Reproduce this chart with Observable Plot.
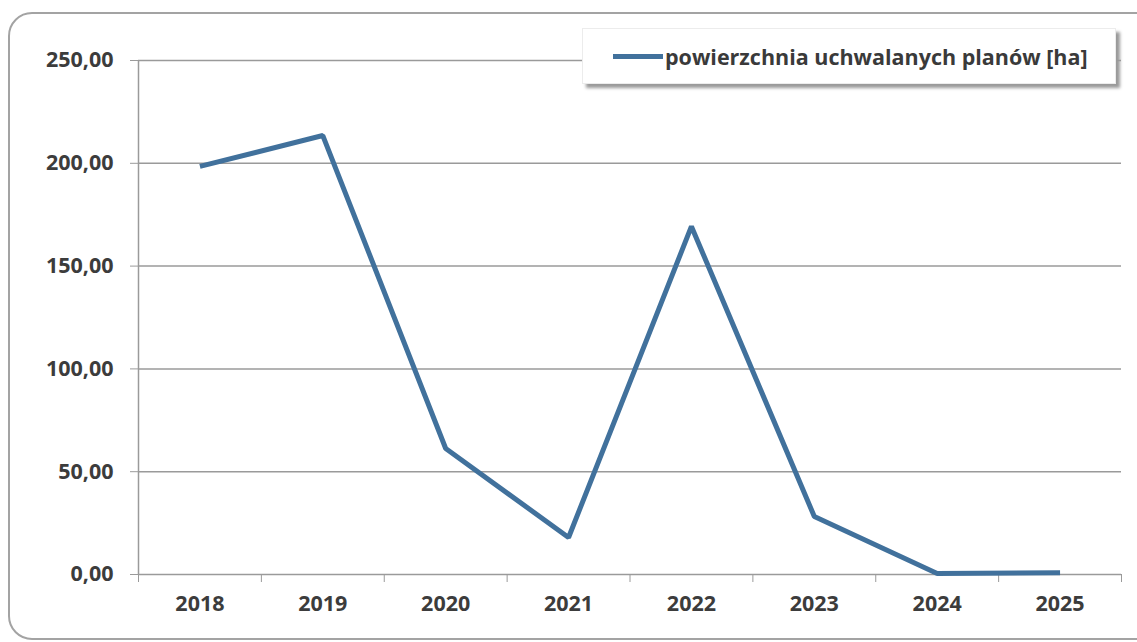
<!DOCTYPE html>
<html>
<head>
<meta charset="utf-8">
<script src="https://cdn.jsdelivr.net/npm/d3@7"></script>
<script src="https://cdn.jsdelivr.net/npm/@observablehq/plot@0.6"></script>
<style>
  html, body { margin: 0; padding: 0; background: #fff; }
  #wrap { position: relative; width: 1137px; height: 642px; overflow: hidden; }
  #frame { position: absolute; left: 8px; top: 12px; width: 1160px; height: 624px;
           border: 2px solid #a3a3a3; border-radius: 24px; }
  #chart { position: absolute; left: 0; top: 0; }
  #legend { position: absolute; left: 582px; top: 28px; width: 532px; height: 54px;
            background: #fff; border: 1px solid #ececec;
            box-shadow: 4px 4px 3px #9a9a9a;
            font-family: "Open Sans", sans-serif; font-weight: 700; font-size: 21.5px; color: #3a3a3a;
            display: flex; align-items: center; }
  #legend .sw { width: 50px; height: 5px; background: #41719c; margin-left: 30px; margin-right: 2px; }
</style>
</head>
<body>
<div id="wrap">
  <div id="frame"></div>
  <div id="chart"></div>
  <div id="legend"><span class="sw"></span><span id="legend-label"></span></div>
</div>
<script>
const years = [2018, 2019, 2020, 2021, 2022, 2023, 2024, 2025];
const values = [198.5, 213.5, 61.3, 18.0, 169.3, 28.2, 0.5, 0.9];
const yTicks = [0, 50, 100, 150, 200, 250];
const seriesName = "powierzchnia uchwalanych planów [ha]";

document.getElementById("legend-label").textContent = seriesName;

const data = years.map((year, i) => ({year, value: values[i]}));
const boundaries = [...years.map(y => y - 0.5), years[years.length - 1] + 0.5];
const fmt = d => d.toFixed(2).replace(".", ",");

const chart = Plot.plot({
  width: 1137,
  height: 642,
  marginLeft: 138,
  marginRight: 16,
  marginTop: 60,
  marginBottom: 68,
  style: { fontFamily: "Open Sans, sans-serif", fontSize: "21.5px", fontWeight: "700", color: "#3c3c3c", background: "transparent" },
  x: { domain: [boundaries[0], boundaries[boundaries.length - 1]] },
  y: { domain: [0, 250] },
  marks: [
    Plot.gridY(yTicks, { stroke: "#9a9a9a", strokeOpacity: 1, strokeWidth: 1.5 }),
    Plot.ruleX([boundaries[0]], { stroke: "#9a9a9a", strokeWidth: 1.5 }),
    Plot.axisY(yTicks, { tickSize: 8, tickPadding: 17, tickFormat: fmt, stroke: "#9a9a9a", label: null }),
    Plot.axisX(boundaries, { tickSize: 8, tickFormat: () => "", stroke: "#9a9a9a", label: null }),
    Plot.axisX(years, { tickSize: 0, tickPadding: 21, tickFormat: d => String(d), label: null }),
    Plot.line(data, { x: "year", y: "value", stroke: "#41719c", strokeWidth: 5, strokeLinejoin: "miter", strokeLinecap: "butt" })
  ]
});
document.getElementById("chart").appendChild(chart);
</script>
</body>
</html>
